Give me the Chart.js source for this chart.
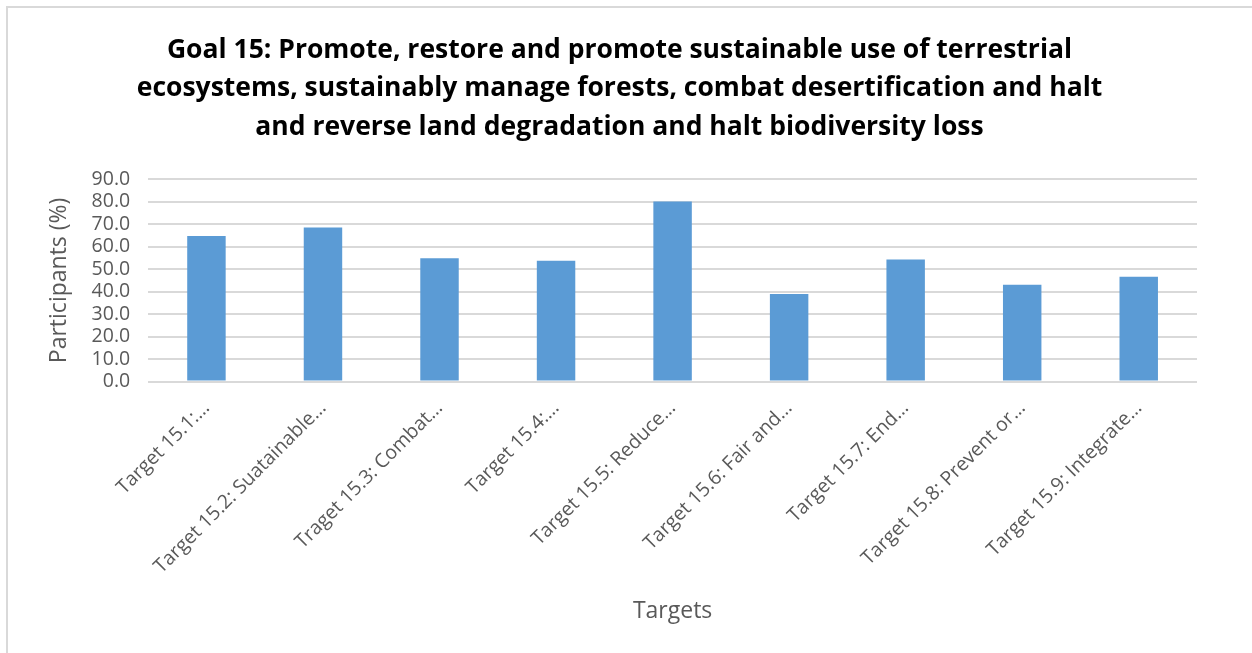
<!DOCTYPE html>
<html>
<head>
<meta charset="utf-8">
<script src="https://cdn.jsdelivr.net/npm/chart.js@4/dist/chart.umd.min.js"></script>
<style>
  html, body { margin: 0; padding: 0; background: #fff; }
  #wrap { position: relative; width: 1252px; height: 653px; overflow: hidden; }
  #frame { position: absolute; left: 6px; top: 6px; width: 1400px; height: 800px;
           border: 2px solid #d9d9d9; pointer-events: none; }
</style>
</head>
<body>
<div id="wrap">
  <canvas id="myChart" width="1252" height="653"></canvas>
  <div id="frame"></div>
</div>
<script>
const targets = [
  "Target 15.1:…",
  "Target 15.2: Suatainable…",
  "Traget 15.3: Combat…",
  "Target 15.4:…",
  "Target 15.5: Reduce…",
  "Target 15.6: Fair and…",
  "Target 15.7: End…",
  "Target 15.8: Prevent or…",
  "Target 15.9: Integrate…",
];
const participants = [64.8, 68.5, 54.8, 53.7, 80.1, 39.0, 54.3, 43.1, 46.6];

const titleLines = [
  "Goal 15: Promote, restore and promote sustainable use of terrestrial",
  "ecosystems, sustainably manage forests, combat desertification and halt",
  "and reverse land degradation and halt biodiversity loss",
];

const ctx = document.getElementById("myChart");
const font = "'Open Sans', sans-serif";

new Chart(ctx, {
  type: "bar",
  data: {
    labels: targets,
    datasets: [
      {
        label: "Participants (%)",
        data: participants,
        backgroundColor: "#5b9bd5",
        borderWidth: 0,
        categoryPercentage: 1,
        barPercentage: 0.33,
      },
    ],
  },
  options: {
    responsive: false,
    animation: false,
    layout: {
      padding: { left: 42, right: 55, top: 10, bottom: 24 },
    },
    scales: {
      x: {
        grid: { display: false },
        border: { display: false },
        ticks: {
          color: "#595959",
          font: { family: font, size: 19.5 },
          maxRotation: 45,
          minRotation: 45,
          autoSkip: false,
          padding: 7,
        },
        title: {
          display: true,
          text: "Targets",
          color: "#595959",
          font: { family: font, size: 23 },
          padding: { top: 12 },
        },
      },
      y: {
        min: 0,
        max: 90,
        grid: { color: "#d9d9d9", lineWidth: 2, drawTicks: false },
        border: { display: false },
        ticks: {
          stepSize: 10,
          autoSkip: false,
          color: "#595959",
          font: { family: font, size: 19.5 },
          padding: 18,
          callback: (v) => v.toFixed(1),
        },
        title: {
          display: true,
          text: "Participants (%)",
          color: "#595959",
          font: { family: font, size: 23 },
          padding: { bottom: 0 },
        },
      },
    },
    plugins: {
      legend: { display: false },
      tooltip: { enabled: false },
      title: {
        display: true,
        text: titleLines,
        color: "#000",
        font: { family: font, size: 26.5, weight: "bold", lineHeight: 1.45 },
        padding: { top: 21, bottom: 33 },
      },
    },
  },
});
</script>
</body>
</html>
